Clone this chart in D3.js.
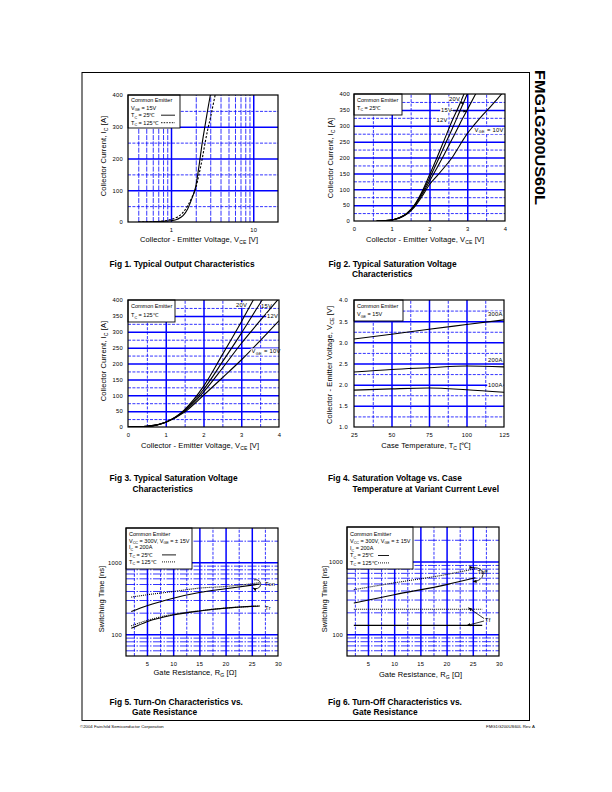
<!DOCTYPE html>
<html><head><meta charset="utf-8">
<script src="https://cdn.jsdelivr.net/npm/d3@7"></script>
<style>
body{margin:0;background:#fff;}
svg{display:block;font-family:"Liberation Sans",Arial,Helvetica,sans-serif;}
</style></head><body>
<svg id="page" width="612" height="792"></svg>
<script>
// ---------------- DATA ----------------
const partNumber = "FMG1G200US60L";
// Fig 1 : Typical Output Characteristics (log Vce)
const fig1Vce25  = [0.4, 0.6, 0.8, 1.0, 1.2, 1.4, 1.6, 1.8, 2.0, 2.2, 2.4, 2.6, 2.8, 3.0, 3.1];
const fig1Ic25   = [0, 0.5, 2, 4, 9, 20, 42, 75, 112, 180, 250, 305, 355, 398, 420];
const fig1Vce125 = [0.4, 0.6, 0.8, 1.0, 1.2, 1.4, 1.6, 1.8, 2.0, 2.2, 2.4, 2.6, 2.8, 3.0, 3.2, 3.4, 3.6];
const fig1Ic125  = [0, 1, 3, 8, 16, 30, 52, 78, 107, 152, 200, 250, 292, 325, 360, 393, 420];
const fig1XTicks = [1, 10];
const fig1YTicks = [0, 100, 200, 300, 400];
// Fig 2 : Typical Saturation Voltage, Tc = 25C
const fig2Vce   = [0.6, 0.8, 1.0, 1.2, 1.4, 1.6, 1.8, 2.0, 2.2, 2.4, 2.6, 2.8, 3.0, 3.2, 3.4, 3.6, 3.8, 4.0];
const fig2Ic20V = [0, 1, 3, 10, 24, 50, 92, 145, 200, 258, 316, 368, 425];
const fig2Ic15V = [0, 1, 3, 10, 24, 49, 88, 135, 185, 238, 290, 345, 400, 455];
const fig2Ic12V = [0, 1, 3, 10, 23, 47, 83, 125, 168, 212, 258, 305, 350, 395, 440];
const fig2Ic10V = [0, 1, 3, 9, 22, 44, 77, 115, 142, 170, 200, 238, 275, 305, 333, 358, 385, 412];
// Fig 3 : Typical Saturation Voltage, Tc = 125C
const fig3Vce   = [0, 0.5, 1.0, 1.5, 2.0, 2.5, 3.0, 3.5, 4.0];
const fig3Ic20V = [0, 2, 15, 55, 128, 228, 331, 440];
const fig3Ic15V = [0, 2, 15, 52, 118, 205, 295, 390, 480];
const fig3Ic12V = [0, 2, 15, 50, 110, 185, 263, 335, 405];
const fig3Ic10V = [0, 2, 15, 47, 100, 155, 211, 272, 335];
const linTicksV = [0, 1, 2, 3, 4];
const linTicksA = [0, 50, 100, 150, 200, 250, 300, 350, 400];
// Fig 4 : Saturation Voltage vs Case Temperature
const fig4Temp  = [25, 50, 75, 100, 125];
const fig4V300A = [3.08, 3.19, 3.31, 3.42, 3.53];
const fig4V200A = [2.30, 2.36, 2.40, 2.44, 2.42];
const fig4V100A = [1.87, 1.90, 1.92, 1.88, 1.82];
const fig4XTicks = [25, 50, 75, 100, 125];
const fig4YTicks = [1.0, 1.5, 2.0, 2.5, 3.0, 3.5, 4.0];
// Fig 5 : Turn-On vs Gate Resistance
const fig5Rg      = [2, 5, 10, 15, 20, 26.5];
const fig5Ton25   = [207, 250, 318, 381, 430, 499];
const fig5Ton125  = [329, 354, 393, 439, 462, 522];
const fig5Tr25    = [121, 150, 186, 211, 231, 248];
const fig5Tr125   = [131, 156, 190, 212, 231, 248];
// Fig 6 : Turn-Off vs Gate Resistance
const fig6Rg      = [2.3, 10, 20, 25.5];
const fig6Toff25  = [268, 350, 482, 599];
const fig6Toff125 = [411, 509, 665, 798];
const fig6RgTf    = [2.3, 26.8];
const fig6Tf25    = [132, 132];
const fig6Tf125   = [221, 221];
const rgTicks = [5, 10, 15, 20, 25, 30];
const timeTicks = [100, 1000];

// ---------------- DRAWING ----------------
const svg = d3.select("#page");
const BLUE = "#0000ff";
const defs = svg.append("defs");
defs.append("marker").attr("id","arr").attr("viewBox","0 0 10 10").attr("refX",9).attr("refY",5)
  .attr("markerWidth",5).attr("markerHeight",5).attr("orient","auto")
  .append("path").attr("d","M0,1 L10,5 L0,9 z").attr("fill","#000");

function rich(sel, parts, size){
  let shift = 0;
  parts.forEach(p=>{
    const t = sel.append("tspan");
    if (p.startsWith("_")) { t.attr("font-size", size*0.68).attr("dy", size*0.3 - shift); shift = size*0.3; t.text(p.slice(1)); }
    else { if (shift) { t.attr("dy", -shift); shift = 0; } t.text(p); }
  });
}
function tag(g, x, y, parts, size, opts){
  opts = opts || {};
  const t = g.append("text").attr("x",x).attr("y",y).attr("font-size",size)
    .attr("text-anchor", opts.anchor || "start").attr("fill","#000");
  if (opts.transform) t.attr("transform", opts.transform);
  if (opts.bold) t.attr("font-weight","bold");
  if (opts.ls) t.attr("letter-spacing", opts.ls);
  rich(t, parts, size);
  if (opts.bg) {
    const b = t.node().getBBox();
    g.insert("rect", () => t.node()).attr("x",b.x-0.8).attr("y",b.y+0.3).attr("width",b.width+1.6).attr("height",b.height-0.6).attr("fill","#fff");
  }
  return t;
}

let clipN = 0;
function panel(o){
  const x = o.x.range([o.left, o.right]);
  const y = o.y.range([o.bottom, o.top]);
  const H = o.bottom - o.top, Wd = o.right - o.left;
  const g = svg.append("g");
  g.append("rect").attr("x",o.left).attr("y",o.top).attr("width",Wd).attr("height",H).attr("fill","#fff");
  const gs = (s, w, dash) => { s.select(".domain").remove(); s.selectAll(".tick text").remove();
    s.selectAll(".tick line").attr("stroke",BLUE).attr("stroke-width",w).attr("stroke-dasharray",dash); };
  g.append("g").attr("transform",`translate(0,${o.bottom})`)
    .call(d3.axisBottom(x).tickValues(o.vMinor).tickSize(-H).tickFormat(""))
    .call(s=>gs(s,0.8,o.vDash||"3,1.4"));
  g.append("g").attr("transform",`translate(${o.left},0)`)
    .call(d3.axisLeft(y).tickValues(o.hMinor).tickSize(-Wd).tickFormat(""))
    .call(s=>gs(s,0.8,o.hDash||"3,1.4"));
  g.append("g").attr("transform",`translate(0,${o.bottom})`)
    .call(d3.axisBottom(x).tickValues(o.vMajor).tickSize(-H).tickFormat(""))
    .call(s=>gs(s,1.5,null));
  g.append("g").attr("transform",`translate(${o.left},0)`)
    .call(d3.axisLeft(y).tickValues(o.hMajor).tickSize(-Wd).tickFormat(""))
    .call(s=>gs(s,1.5,null));
  const id = "clip" + (clipN++);
  defs.append("clipPath").attr("id",id).append("rect").attr("x",o.left).attr("y",o.top).attr("width",Wd).attr("height",H);
  const plot = g.append("g").attr("clip-path",`url(#${id})`);
  // tick labels through axes
  const ts = s => { s.select(".domain").remove(); s.selectAll(".tick line").remove();
    s.selectAll(".tick text").attr("font-size",5.8).attr("font-family",null).attr("fill","#000").attr("letter-spacing",0.3); };
  g.append("g").attr("transform",`translate(0,${o.bottom})`)
    .call(d3.axisBottom(x).tickValues(o.xTicks).tickFormat(o.xFmt || (d=>d)).tickSize(0).tickPadding(o.xPad||6)).call(ts);
  g.append("g").attr("transform",`translate(${o.left},0)`)
    .call(d3.axisLeft(y).tickValues(o.yTicks).tickFormat(o.yFmt || (d=>d)).tickSize(0).tickPadding(o.yPad||5)).call(ts);
  return {g, x, y, plot, o};
}
function curve(p, xs, ys, dash, w){
  const pts = ys.map((v,i)=>[xs[i], v]);
  p.plot.append("path").datum(pts)
    .attr("d", d3.line().x(d=>p.x(d[0])).y(d=>p.y(d[1])).curve(d3.curveMonotoneX))
    .attr("fill","none").attr("stroke","#000").attr("stroke-width",w||1.1)
    .attr("stroke-dasharray",dash||null);
}
function frame(p){
  const o = p.o;
  p.g.append("rect").attr("x",o.left).attr("y",o.top).attr("width",o.right-o.left).attr("height",o.bottom-o.top)
    .attr("fill","none").attr("stroke","#000").attr("stroke-width",1.2);
}
function legend(p, x1, y1, rows){
  const o = p.o;
  p.g.append("rect").attr("x",o.left).attr("y",o.top).attr("width",x1-o.left).attr("height",y1-o.top)
    .attr("fill","#fff").attr("stroke","#000").attr("stroke-width",0.9);
  rows.forEach(r=>{
    tag(p.g, o.left+3, r.y, r.parts, 5.5);
    if (r.line) p.g.append("line").attr("x1",r.line[0]).attr("x2",r.line[1]).attr("y1",r.y-1.8).attr("y2",r.y-1.8)
      .attr("stroke","#000").attr("stroke-width",0.9).attr("stroke-dasharray",r.dash||null);
  });
}
function titles(p, xt, xtPos, yt, ytPos){
  tag(p.g, xtPos[0], xtPos[1], xt, 7.5, {anchor:"middle", ls:0.1});
  tag(p.g, 0, 0, yt, 7.5, {anchor:"middle", ls:0.1, transform:`translate(${ytPos[0]},${ytPos[1]}) rotate(-90)`});
}
const range = (a,b,s) => d3.range(a, b+1e-9, s);
const xTitleV = ["Collector - Emitter Voltage, V","_CE"," [V]"];
const yTitleA = ["Collector Current, I","_C"," [A]"];

// ----- Fig 1 -----
{
  const p = panel({left:128, right:278, top:95, bottom:222,
    x:d3.scaleLog().domain([0.3,20]), y:d3.scaleLinear().domain([0,400]),
    vMinor:[0.4,0.5,0.6,0.7,0.8,0.9,2,3,4,5,6,7,8,9], vMajor:[1,10], vDash:"5,1.3",
    hMinor:[50,150,250,350], hMajor:[100,200,300],
    xTicks:fig1XTicks, yTicks:fig1YTicks, yPad:5});
  curve(p, fig1Vce25, fig1Ic25);
  curve(p, fig1Vce125, fig1Ic125, "2.2,1.6");
  legend(p, 180, 128, [
    {y:102, parts:["Common Emitter"]},
    {y:109.5, parts:["V","_GE"," = 15V"]},
    {y:117, parts:["T","_C"," =   25℃"], line:[161,175]},
    {y:124.5, parts:["T","_C"," = 125℃"], line:[161,175], dash:"1.5,1.2"}]);
  frame(p);
  titles(p, xTitleV, [199,242], yTitleA, [105.8,156]);
}
// ----- Fig 2 -----
{
  const p = panel({left:354, right:505, top:94, bottom:221,
    x:d3.scaleLinear().domain([0,4]), y:d3.scaleLinear().domain([0,400]),
    vMinor:[0.5,1.5,2.5,3.5], vMajor:[1,2,3],
    hMinor:range(25,375,50), hMajor:range(50,350,50),
    xTicks:linTicksV, yTicks:linTicksA, yPad:4});
  curve(p, fig2Vce, fig2Ic20V); curve(p, fig2Vce, fig2Ic15V);
  curve(p, fig2Vce, fig2Ic12V); curve(p, fig2Vce, fig2Ic10V);
  tag(p.g, 449, 101, ["20V"], 5.8, {bg:true, ls:0.3});
  tag(p.g, 441, 112, ["15V"], 5.8, {bg:true, ls:0.3});
  tag(p.g, 436.5, 121.5, ["12V"], 5.8, {bg:true, ls:0.3});
  tag(p.g, 474.5, 131.5, ["V","_GE"," = 10V"], 5.8, {bg:true, ls:0.3});
  p.g.append("line").attr("x1",459.5).attr("y1",101).attr("x2",463.5).attr("y2",104).attr("stroke","#000").attr("stroke-width",0.7).attr("marker-end","url(#arr)");
  p.g.append("line").attr("x1",451).attr("y1",110.5).attr("x2",466.5).attr("y2",111.2).attr("stroke","#000").attr("stroke-width",0.7).attr("marker-end","url(#arr)");
  legend(p, 402, 115, [
    {y:102, parts:["Common Emitter"]},
    {y:109.8, parts:["T","_C"," = 25℃"]}]);
  frame(p);
  titles(p, xTitleV, [425,242], yTitleA, [332.5,158]);
}
// ----- Fig 3 -----
{
  const p = panel({left:128, right:279, top:300, bottom:427,
    x:d3.scaleLinear().domain([0,4]), y:d3.scaleLinear().domain([0,400]),
    vMinor:[0.5,1.5,2.5,3.5], vMajor:[1,2,3],
    hMinor:range(25,375,50), hMajor:range(50,350,50),
    xTicks:linTicksV, yTicks:linTicksA, yPad:5});
  curve(p, fig3Vce, fig3Ic20V); curve(p, fig3Vce, fig3Ic15V);
  curve(p, fig3Vce, fig3Ic12V); curve(p, fig3Vce, fig3Ic10V);
  tag(p.g, 236, 307, ["20V"], 5.8, {bg:true, ls:0.3});
  tag(p.g, 261, 308, ["15V"], 5.8, {ls:0.3});
  tag(p.g, 267, 318, ["12V"], 5.8, {bg:true, ls:0.3});
  tag(p.g, 251.5, 353, ["V","_GE"," = 10V"], 5.8, {bg:true, ls:0.3});
  legend(p, 175, 322, [
    {y:307.7, parts:["Common Emitter"]},
    {y:317, parts:["T","_C"," = 125℃"]}]);
  frame(p);
  titles(p, xTitleV, [200,447.5], yTitleA, [105.8,361]);
}
// ----- Fig 4 -----
{
  const p = panel({left:354, right:504, top:300, bottom:427,
    x:d3.scaleLinear().domain([25,125]), y:d3.scaleLinear().domain([1,4]),
    vMinor:[37.5,62.5,87.5,112.5], vMajor:[50,75,100],
    hMinor:range(1.25,3.75,0.5), hMajor:range(1.5,3.5,0.5),
    xTicks:fig4XTicks, yTicks:fig4YTicks, yFmt:d3.format(".1f"), yPad:6});
  curve(p, fig4Temp, fig4V300A); curve(p, fig4Temp, fig4V200A); curve(p, fig4Temp, fig4V100A);
  tag(p.g, 488, 316, ["300A"], 5.8, {bg:true, ls:0.3});
  tag(p.g, 488, 362, ["200A"], 5.8, {bg:true, ls:0.3});
  tag(p.g, 488, 387, ["100A"], 5.8, {bg:true, ls:0.3});
  legend(p, 403, 321, [
    {y:307.7, parts:["Common Emitter"]},
    {y:316, parts:["V","_GE"," = 15V"]}]);
  frame(p);
  titles(p, xTitleV.length ? ["Case Temperature, T","_C"," [℃]"] : [], [426,447.5], xTitleV, [331.5,365]);
}
// ----- Fig 5 -----
{
  const p = panel({left:126, right:278, top:528, bottom:656,
    x:d3.scaleLinear().domain([1,30]), y:d3.scaleLog().domain([50,3000]),
    vMinor:[2.5,7.5,12.5,17.5,22.5,27.5], vMajor:[5,10,15,20,25],
    hMinor:[60,70,80,90,200,300,400,500,600,700,800,900,2000], hMajor:[100,1000], hDash:"9,1.5,1.5,1.5",
    xTicks:rgTicks, yTicks:timeTicks, yPad:4, xPad:6});
  curve(p, fig5Rg, fig5Ton25); curve(p, fig5Rg, fig5Ton125, "1,1");
  curve(p, fig5Rg, fig5Tr25);  curve(p, fig5Rg, fig5Tr125, "1,1");
  p.g.append("path").attr("d","M254,580 A5,4.5 0 1,1 253,588").attr("fill","none").attr("stroke","#000").attr("stroke-width",0.8).attr("marker-end","url(#arr)");
  tag(p.g, 265, 585.5, ["Ton"], 5.8, {ls:0.3});
  tag(p.g, 265, 609.5, ["Tr"], 5.8, {ls:0.3});
  legend(p, 192, 569, [
    {y:536, parts:["Common Emitter"]},
    {y:542.7, parts:["V","_CC"," = 300V, V","_GE"," = ± 15V"]},
    {y:549.3, parts:["I","_C"," = 200A"]},
    {y:556.7, parts:["T","_C"," =  25℃"], line:[162,176]},
    {y:563.7, parts:["T","_C"," = 125℃"], line:[162,176], dash:"1,1"}]);
  frame(p);
  titles(p, ["Gate Resistance, R","_G"," [Ω]"], [195,675], ["Switching Time [ns]"], [103.5,599]);
}
// ----- Fig 6 -----
{
  const p = panel({left:347, right:499, top:527, bottom:656,
    x:d3.scaleLinear().domain([1,30]), y:d3.scaleLog().domain([50,3000]),
    vMinor:[2.5,7.5,12.5,17.5,22.5,27.5], vMajor:[5,10,15,20,25],
    hMinor:[60,70,80,90,200,300,400,500,600,700,800,900,2000], hMajor:[100,1000], hDash:"9,1.5,1.5,1.5",
    xTicks:rgTicks, yTicks:timeTicks, yPad:4, xPad:6});
  curve(p, fig6Rg, fig6Toff25); curve(p, fig6Rg, fig6Toff125, "1,1");
  curve(p, fig6RgTf, fig6Tf25); curve(p, fig6RgTf, fig6Tf125, "1,1");
  p.g.append("path").attr("d","M473,567.5 Q484,568 483,574.5 Q482,581 473,581.5").attr("fill","none").attr("stroke","#000").attr("stroke-width",0.8).attr("marker-end","url(#arr)").attr("marker-start","url(#arr)");
  tag(p.g, 477.5, 573.5, ["Toff"], 5.8, {ls:0.3});
  tag(p.g, 485, 622, ["Tf"], 5.8, {ls:0.3});
  p.g.append("line").attr("x1",484).attr("y1",618.5).attr("x2",468.5).attr("y2",607.8).attr("stroke","#000").attr("stroke-width",0.8).attr("marker-end","url(#arr)");
  p.g.append("line").attr("x1",484).attr("y1",621).attr("x2",467).attr("y2",625.5).attr("stroke","#000").attr("stroke-width",0.8).attr("marker-end","url(#arr)");
  legend(p, 413, 569, [
    {y:536, parts:["Common Emitter"]},
    {y:542.7, parts:["V","_CC"," = 300V, V","_GE"," = ± 15V"]},
    {y:550, parts:["I","_C"," = 200A"]},
    {y:557.3, parts:["T","_C"," =  25℃"], line:[378,389]},
    {y:564.7, parts:["T","_C"," = 125℃"], line:[378,389], dash:"1,1"}]);
  frame(p);
  titles(p, ["Gate Resistance, R","_G"," [Ω]"], [420.5,676.5], ["Switching Time [ns]"], [326.5,599]);
}

// ----- page frame, captions, footer -----
svg.append("rect").attr("x",82).attr("y",72.5).attr("width",447.5).attr("height",648)
  .attr("fill","none").attr("stroke","#000").attr("stroke-width",1);
svg.append("text").attr("transform","translate(535,70) rotate(90)").attr("font-size",14.5)
  .attr("font-weight","bold").attr("textLength",135).attr("lengthAdjust","spacingAndGlyphs").text(partNumber);
const caps = [
  ["Fig 1. Typical Output Characteristics", 109.5, 267],
  ["Fig 2. Typical Saturation Voltage", 328.5, 267],
  ["Characteristics", 352, 277],
  ["Fig 3. Typical Saturation Voltage", 109.5, 481],
  ["Characteristics", 132.5, 492],
  ["Fig 4. Saturation Voltage vs. Case", 328, 481],
  ["Temperature at Variant Current Level", 352.5, 492],
  ["Fig 5. Turn-On Characteristics vs.", 109.5, 705],
  ["Gate Resistance", 132, 715],
  ["Fig 6. Turn-Off Characteristics vs.", 328, 705],
  ["Gate Resistance", 352.5, 715]];
caps.forEach(c => tag(svg, c[1], c[2], [c[0]], 8.4, {bold:true}));
tag(svg, 80, 728, ["©2004 Fairchild Semiconductor Corporation"], 4.3);
tag(svg, 535, 728, [partNumber + " Rev. A"], 4.3, {anchor:"end"});
</script>
</body></html>
